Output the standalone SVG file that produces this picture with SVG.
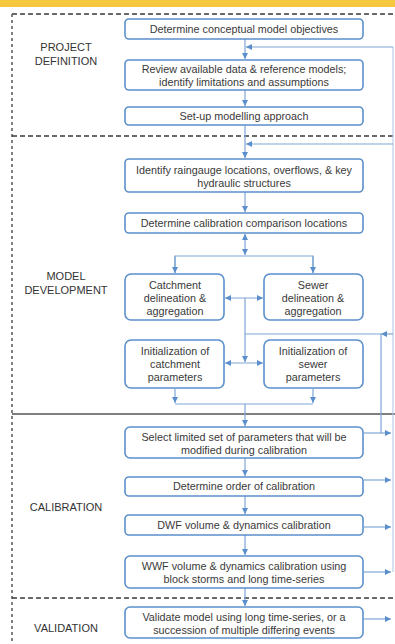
<svg xmlns="http://www.w3.org/2000/svg" width="395" height="644" viewBox="0 0 395 644">
  <style>
    .box { fill: #ffffff; stroke: #5b8fcb; stroke-width: 1.6; }
    .t { font-family: "Liberation Sans", Arial, sans-serif; font-size: 10.8px; fill: #3a3a3a; text-anchor: middle; }
    .lbl { font-family: "Liberation Sans", Arial, sans-serif; font-size: 11px; fill: #333333; text-anchor: middle; }
    .c { fill: none; stroke: #7fa6d6; stroke-width: 1.2; }
    .fb { fill: none; stroke: #b3cae6; stroke-width: 1.1; }
    .div { fill: none; stroke: #3a3a3a; stroke-width: 1.5; stroke-dasharray: 5 3; }
  </style>
  <defs>
    <marker id="ah" viewBox="0 0 6 6" refX="6" refY="3" markerWidth="6" markerHeight="6" markerUnits="userSpaceOnUse" orient="auto-start-reverse">
      <path d="M0,0 L6,3 L0,6 Z" fill="#5b8fcb"/>
    </marker>
  </defs>

  <rect x="0" y="0" width="395" height="644" fill="#ffffff"/>
  <rect x="0" y="0" width="395" height="7" fill="#f6c83f"/>

  <!-- phase frame and dividers -->
  <g id="frame">
    <line x1="12" y1="14" x2="395" y2="14" class="div"/>
    <line x1="12" y1="14" x2="12" y2="644" fill="none" stroke="#555" stroke-width="1.5" stroke-dasharray="3 3"/>
    <line x1="12" y1="136" x2="395" y2="136" class="div"/>
    <line x1="12" y1="414" x2="395" y2="414" fill="none" stroke="#555" stroke-width="1.6"/>
    <line x1="12" y1="598" x2="395" y2="598" class="div"/>
  </g>

  <!-- phase labels -->
  <g id="labels">
    <text class="lbl" x="66" y="51">PROJECT</text>
    <text class="lbl" x="66" y="65">DEFINITION</text>
    <text class="lbl" x="66" y="280">MODEL</text>
    <text class="lbl" x="66" y="294">DEVELOPMENT</text>
    <text class="lbl" x="66" y="511">CALIBRATION</text>
    <text class="lbl" x="66" y="632">VALIDATION</text>
  </g>

  <!-- connectors -->
  <g id="connectors">
    <line class="c" x1="245" y1="39" x2="245" y2="59" marker-end="url(#ah)"/>
    <line class="c" x1="245" y1="90" x2="245" y2="106" marker-end="url(#ah)"/>
    <line class="c" x1="245" y1="125" x2="245" y2="158" marker-end="url(#ah)"/>
    <line class="c" x1="245" y1="192" x2="245" y2="212" marker-end="url(#ah)"/>
    <line class="c" x1="245" y1="234" x2="245" y2="255" marker-start="url(#ah)" marker-end="url(#ah)"/>
    <polyline class="c" points="175,273 175,256 313,256 313,273"/>
    <line class="c" x1="175" y1="256" x2="175" y2="273" marker-end="url(#ah)"/>
    <line class="c" x1="313" y1="256" x2="313" y2="273" marker-end="url(#ah)"/>
    <line class="c" x1="225" y1="298" x2="263" y2="298" marker-start="url(#ah)" marker-end="url(#ah)"/>
    <line class="c" x1="245" y1="298" x2="245" y2="362" marker-end="url(#ah)"/>
    <line class="c" x1="225" y1="363" x2="263" y2="363" marker-start="url(#ah)" marker-end="url(#ah)"/>
    <line class="c" x1="175" y1="389" x2="175" y2="403" marker-end="url(#ah)"/>
    <line class="c" x1="313" y1="389" x2="313" y2="403" marker-end="url(#ah)"/>
    <line class="c" x1="175" y1="404" x2="313" y2="404"/>
    <line class="c" x1="245" y1="404" x2="245" y2="426" marker-end="url(#ah)"/>
    <line class="c" x1="245" y1="458" x2="245" y2="476" marker-end="url(#ah)"/>
    <line class="c" x1="245" y1="496" x2="245" y2="514" marker-end="url(#ah)"/>
    <line class="c" x1="245" y1="535" x2="245" y2="555" marker-end="url(#ah)"/>
    <line class="c" x1="245" y1="588" x2="245" y2="606" marker-end="url(#ah)"/>

    <!-- return paths on the right -->
    <line class="fb" x1="393" y1="47" x2="393" y2="572"/>
    <line class="c" x1="393" y1="47" x2="246" y2="47" marker-end="url(#ah)"/>
    <line class="c" x1="393" y1="144" x2="246" y2="144" marker-end="url(#ah)"/>
    <line class="c" x1="393" y1="334" x2="381" y2="334" marker-end="url(#ah)"/>
    <line class="c" x1="381" y1="334" x2="245" y2="334"/>
    <line class="c" x1="381" y1="334" x2="381" y2="433"/>
    <line class="c" x1="364" y1="433" x2="391" y2="433" marker-end="url(#ah)"/>
    <line class="c" x1="364" y1="480" x2="391" y2="480" marker-end="url(#ah)"/>
    <line class="c" x1="364" y1="527" x2="391" y2="527" marker-end="url(#ah)"/>
    <line class="c" x1="364" y1="572" x2="391" y2="572" marker-end="url(#ah)"/>
    <line class="c" x1="364" y1="619" x2="391" y2="619" marker-end="url(#ah)"/>
  </g>

  <g id="objectives">
    <rect class="box" x="125" y="19" width="238" height="20" rx="4"/>
    <text class="t" x="244" y="33">Determine conceptual model objectives</text>
  </g>
  <g id="review">
    <rect class="box" x="125" y="60" width="238" height="30" rx="4"/>
    <text class="t" x="244" y="73">Review available data &amp; reference models;</text>
    <text class="t" x="244" y="86">identify limitations and assumptions</text>
  </g>
  <g id="setup">
    <rect class="box" x="125" y="107" width="238" height="18" rx="4"/>
    <text class="t" x="244" y="120">Set-up modelling approach</text>
  </g>
  <g id="identify">
    <rect class="box" x="125" y="159" width="238" height="33" rx="4"/>
    <text class="t" x="244" y="174">Identify raingauge locations, overflows, &amp; key</text>
    <text class="t" x="244" y="187">hydraulic structures</text>
  </g>
  <g id="comparison">
    <rect class="box" x="125" y="213" width="238" height="20" rx="4"/>
    <text class="t" x="244" y="227">Determine calibration comparison locations</text>
  </g>
  <g id="catchment">
    <rect class="box" x="125" y="274" width="99" height="46" rx="6"/>
    <text class="t" x="175" y="289">Catchment</text>
    <text class="t" x="175" y="302">delineation &amp;</text>
    <text class="t" x="175" y="315">aggregation</text>
  </g>
  <g id="sewer">
    <rect class="box" x="264" y="274" width="99" height="46" rx="6"/>
    <text class="t" x="313" y="289">Sewer</text>
    <text class="t" x="313" y="302">delineation &amp;</text>
    <text class="t" x="313" y="315">aggregation</text>
  </g>
  <g id="init-catchment">
    <rect class="box" x="125" y="340" width="99" height="48" rx="6"/>
    <text class="t" x="175" y="355">Initialization of</text>
    <text class="t" x="175" y="368">catchment</text>
    <text class="t" x="175" y="381">parameters</text>
  </g>
  <g id="init-sewer">
    <rect class="box" x="264" y="340" width="99" height="48" rx="6"/>
    <text class="t" x="313" y="355">Initialization of</text>
    <text class="t" x="313" y="368">sewer</text>
    <text class="t" x="313" y="381">parameters</text>
  </g>
  <g id="select">
    <rect class="box" x="125" y="427" width="238" height="31" rx="5"/>
    <text class="t" x="244" y="441">Select limited set of parameters that will be</text>
    <text class="t" x="244" y="454">modified during calibration</text>
  </g>
  <g id="order">
    <rect class="box" x="125" y="477" width="238" height="19" rx="4"/>
    <text class="t" x="244" y="490">Determine order of calibration</text>
  </g>
  <g id="dwf">
    <rect class="box" x="125" y="515" width="238" height="20" rx="4"/>
    <text class="t" x="244" y="529">DWF volume &amp; dynamics calibration</text>
  </g>
  <g id="wwf">
    <rect class="box" x="125" y="556" width="238" height="32" rx="5"/>
    <text class="t" x="244" y="570">WWF volume &amp; dynamics calibration using</text>
    <text class="t" x="244" y="583">block storms and long time-series</text>
  </g>
  <g id="validate">
    <rect class="box" x="125" y="607" width="238" height="31" rx="5"/>
    <text class="t" x="244" y="621">Validate model using long time-series, or a</text>
    <text class="t" x="244" y="634">succession of multiple differing events</text>
  </g>
</svg>
